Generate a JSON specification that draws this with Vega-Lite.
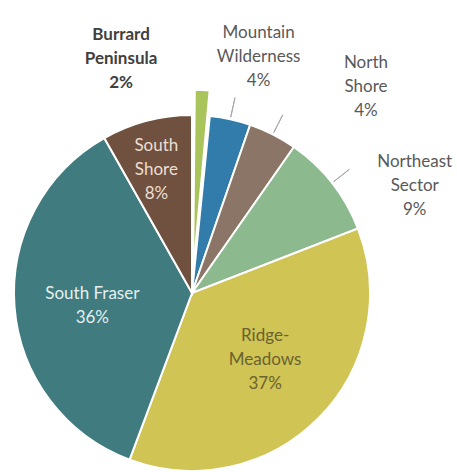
{
  "$schema": "https://vega.github.io/schema/vega-lite/v6.json",
  "width": 384,
  "height": 346,
  "autosize": {"type": "none"},
  "padding": {"left": 0, "top": 120, "right": 73, "bottom": 6},
  "background": "white",
  "config": {
    "view": {"stroke": null},
    "text": {"font": "Lato", "fontSize": 17, "lineHeight": 24, "align": "center", "baseline": "middle", "lineBreak": "\n"}
  },
  "data": {
    "values": [
      {"region": "Burrard Peninsula", "label": "Burrard\nPeninsula", "pct": 1.6, "order": 1},
      {"region": "Mountain Wilderness", "label": "Mountain\nWilderness", "pct": 3.7, "order": 2},
      {"region": "North Shore", "label": "North\nShore", "pct": 4.4, "order": 3},
      {"region": "Northeast Sector", "label": "Northeast\nSector", "pct": 9.4, "order": 4},
      {"region": "Ridge-Meadows", "label": "Ridge-\nMeadows", "pct": 36.6, "order": 5},
      {"region": "South Fraser", "label": "South Fraser", "pct": 36.1, "order": 6},
      {"region": "South Shore", "label": "South\nShore", "pct": 8.2, "order": 7}
    ]
  },
  "transform": [
    {"window": [{"op": "sum", "field": "pct", "as": "end"}], "sort": [{"field": "order"}], "frame": [null, 0]},
    {"calculate": "datum.end - datum.pct", "as": "start"},
    {"calculate": "(datum.start + datum.end) / 2", "as": "mid"},
    {"calculate": "datum.label + '\\n' + format(datum.pct, '.0f') + '%'", "as": "text"}
  ],
  "layer": [
    {
      "transform": [{"filter": "datum.region !== 'Burrard Peninsula'"}],
      "mark": {"type": "arc", "stroke": "white", "strokeWidth": 2},
      "encoding": {
        "theta": {"field": "start", "type": "quantitative", "scale": {"domain": [0, 100]}},
        "theta2": {"field": "end"},
        "radius": {"value": 178},
        "color": {
          "field": "region", "type": "nominal", "legend": null,
          "scale": {
            "domain": ["Burrard Peninsula", "Mountain Wilderness", "North Shore", "Northeast Sector", "Ridge-Meadows", "South Fraser", "South Shore"],
            "range": ["#a9c45a", "#317cab", "#8b7566", "#8db98f", "#cfc454", "#3f7b7f", "#70513f"]
          }
        }
      }
    },
    {
      "transform": [{"filter": "datum.region === 'Burrard Peninsula'"}],
      "mark": {"type": "arc", "stroke": "white", "strokeWidth": 1.5, "padAngle": 0.03},
      "encoding": {
        "theta": {"field": "start", "type": "quantitative", "scale": {"domain": [0, 100]}},
        "theta2": {"field": "end"},
        "radius": {"value": 203},
        "radius2": {"value": 26},
        "color": {
          "field": "region", "type": "nominal", "legend": null,
          "scale": {
            "domain": ["Burrard Peninsula", "Mountain Wilderness", "North Shore", "Northeast Sector", "Ridge-Meadows", "South Fraser", "South Shore"],
            "range": ["#a9c45a", "#317cab", "#8b7566", "#8db98f", "#cfc454", "#3f7b7f", "#70513f"]
          }
        }
      }
    },
    {
      "transform": [{"filter": "datum.region === 'Mountain Wilderness' || datum.region === 'North Shore' || datum.region === 'Northeast Sector'"}],
      "mark": {"type": "arc", "fill": null, "stroke": "#a6a6a6", "strokeWidth": 1},
      "encoding": {
        "theta": {"field": "mid", "type": "quantitative", "scale": {"domain": [0, 100]}},
        "theta2": {"field": "mid"},
        "radius": {"value": 200},
        "radius2": {"value": 180}
      }
    },
    {
      "transform": [{"filter": "datum.region === 'Burrard Peninsula'"}],
      "mark": {"type": "text", "dx": -83, "dy": -18, "fontWeight": "bold", "color": "#404040"},
      "encoding": {
        "theta": {"field": "mid", "type": "quantitative", "scale": {"domain": [0, 100]}},
        "radius": {"value": 240},
        "text": {"field": "text"}
      }
    },
    {
      "transform": [{"filter": "datum.region === 'Mountain Wilderness'"}],
      "mark": {"type": "text", "dx": 15, "dy": -26, "color": "#595959"},
      "encoding": {
        "theta": {"field": "mid", "type": "quantitative", "scale": {"domain": [0, 100]}},
        "radius": {"value": 240},
        "text": {"field": "text"}
      }
    },
    {
      "transform": [{"filter": "datum.region === 'North Shore'"}],
      "mark": {"type": "text", "dx": 65, "dy": -16, "color": "#595959"},
      "encoding": {
        "theta": {"field": "mid", "type": "quantitative", "scale": {"domain": [0, 100]}},
        "radius": {"value": 240},
        "text": {"field": "text"}
      }
    },
    {
      "transform": [{"filter": "datum.region === 'Northeast Sector'"}],
      "mark": {"type": "text", "dx": 34, "dy": 17, "color": "#595959"},
      "encoding": {
        "theta": {"field": "mid", "type": "quantitative", "scale": {"domain": [0, 100]}},
        "radius": {"value": 240},
        "text": {"field": "text"}
      }
    },
    {
      "transform": [{"filter": "datum.region === 'South Shore'"}],
      "mark": {"type": "text", "dx": -3, "dy": -23, "color": "#ecdfd2"},
      "encoding": {
        "theta": {"field": "mid", "type": "quantitative", "scale": {"domain": [0, 100]}},
        "radius": {"value": 128},
        "text": {"field": "text"}
      }
    },
    {
      "transform": [{"filter": "datum.region === 'South Fraser'"}],
      "mark": {"type": "text", "dx": 0, "dy": -7, "color": "#e6f0f0"},
      "encoding": {
        "theta": {"field": "mid", "type": "quantitative", "scale": {"domain": [0, 100]}},
        "radius": {"value": 100},
        "text": {"field": "text"}
      }
    },
    {
      "transform": [{"filter": "datum.region === 'Ridge-Meadows'"}],
      "mark": {"type": "text", "dx": 2, "dy": -27, "color": "#6a6230"},
      "encoding": {
        "theta": {"field": "mid", "type": "quantitative", "scale": {"domain": [0, 100]}},
        "radius": {"value": 100},
        "text": {"field": "text"}
      }
    }
  ]
}
